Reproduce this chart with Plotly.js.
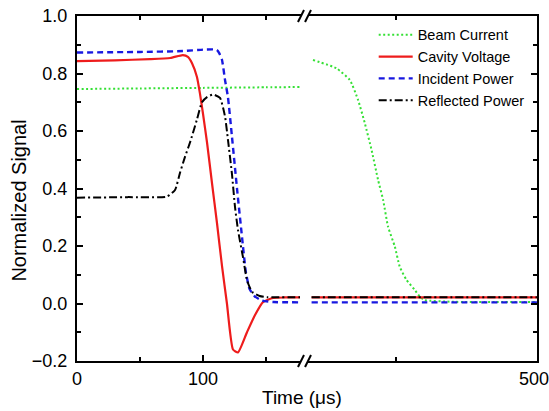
<!DOCTYPE html>
<html>
<head>
<meta charset="utf-8">
<script src="https://cdn.plot.ly/plotly-3.0.1.min.js"></script>
<style>html,body{margin:0;padding:0;background:#fff;}#chart{width:549px;height:411px;}</style>
</head>
<body>
<div id="chart"></div>
<script>
// ---- data ----
const seriesNames = ["Beam Current", "Cavity Voltage", "Incident Power", "Reflected Power"];

// left segment (0 .. ~178 us)
const beamT1 = [0, 50, 100, 150, 177];
const beamV1 = [0.746, 0.748, 0.750, 0.752, 0.753];
const cavT1 = [0, 30, 58, 74, 84, 88, 91.3, 95.2, 97.6, 100, 103.2, 107.1, 111.1, 115.1, 119, 123.8, 127.8, 134.9, 141.3, 147.6, 155.6, 165, 177];
const cavV1 = [0.843, 0.846, 0.850, 0.854, 0.864, 0.858, 0.836, 0.788, 0.73, 0.66, 0.56, 0.42, 0.28, 0.13, 0.0, -0.16, -0.17, -0.10, -0.04, 0.005, 0.019, 0.021, 0.021];
const incT1 = [0, 50, 84, 100, 108, 111, 113, 115.1, 117.5, 119.8, 123, 127, 131, 134, 137, 141, 147, 156, 177];
const incV1 = [0.873, 0.875, 0.878, 0.883, 0.884, 0.882, 0.87, 0.847, 0.777, 0.718, 0.58, 0.40, 0.23, 0.11, 0.05, 0.025, 0.01, 0.005, 0.004];
const refT1 = [0, 40, 71.4, 77.8, 81.7, 85.7, 89.7, 95.2, 99.2, 103.2, 108, 113.5, 117.5, 119.8, 123, 125.4, 127.8, 131.7, 135, 139, 145, 150.8, 177];
const refV1 = [0.368, 0.370, 0.372, 0.395, 0.454, 0.51, 0.56, 0.64, 0.70, 0.718, 0.727, 0.715, 0.65, 0.57, 0.45, 0.336, 0.255, 0.162, 0.08, 0.04, 0.026, 0.022, 0.022];

// right segment (~340 .. 500 us)
const beamT2 = [341, 357.7, 367.2, 373, 377.8, 382.6, 387.2, 390.8, 394.3, 399.1, 402.6, 407.4, 413.3, 416.8, 420, 440, 470, 500];
const beamV2 = [0.847, 0.818, 0.777, 0.708, 0.627, 0.534, 0.43, 0.36, 0.267, 0.198, 0.128, 0.082, 0.047, 0.024, 0.012, 0.006, 0.005, 0.005];
const cavT2 = [340, 420, 500];
const cavV2 = [0.021, 0.021, 0.021];
const incT2 = [340, 420, 500];
const incV2 = [0.004, 0.004, 0.004];
const refT2 = [340, 420, 500];
const refV2 = [0.022, 0.022, 0.022];

const xTickLeft = [0, 100];
const xMinorLeft = [50, 150];
const xTickRight = [500];
const xMinorRight = [400];

// ---- styles ----
const colors = ["#35e035", "#ee1c1c", "#1818e0", "#000000"];
const widths = [2, 2.2, 2.4, 2];
const dashes = ["2px,2.5px", "solid", "6px,4px", "8px,3px,2px,3px"];

const left = [[beamT1, beamV1], [cavT1, cavV1], [incT1, incV1], [refT1, refV1]];
const right = [[beamT2, beamV2], [cavT2, cavV2], [incT2, incV2], [refT2, refV2]];

const traces = [];
seriesNames.forEach((n, i) => {
  traces.push({x: left[i][0], y: left[i][1], name: n, legendgroup: n, type: 'scatter', mode: 'lines',
    line: {color: colors[i], width: widths[i], dash: dashes[i], shape: 'spline', smoothing: 0.5},
    xaxis: 'x', yaxis: 'y'});
});
seriesNames.forEach((n, i) => {
  traces.push({x: right[i][0], y: right[i][1], name: n, legendgroup: n, showlegend: false, type: 'scatter', mode: 'lines',
    line: {color: colors[i], width: widths[i], dash: dashes[i], shape: 'spline', smoothing: 0.5},
    xaxis: 'x2', yaxis: 'y2'});
});

const axCommon = {showline: true, linewidth: 2, linecolor: '#000', ticks: 'inside', ticklen: 6, tickwidth: 2,
  tickcolor: '#000', showgrid: false, zeroline: false, tickfont: {size: 18, color: '#000'}, ticklabeloverflow: 'allow'};

const layout = {
  width: 549, height: 411,
  margin: {l: 77, r: 12, t: 16, b: 50, pad: 0},
  paper_bgcolor: '#fff', plot_bgcolor: '#fff',
  font: {family: 'Arial, "Liberation Sans", sans-serif', color: '#000', size: 16},
  showlegend: true,
  legend: {x: 0.645, y: 0.992, xanchor: 'left', yanchor: 'top', bgcolor: 'rgba(0,0,0,0)',
    font: {size: 14.5, color: '#000'}, itemwidth: 34, tracegroupgap: 0},
  xaxis: Object.assign({}, axCommon, {domain: [0, 0.487], range: [0, 177.8], anchor: 'y', mirror: 'ticks',
    tickmode: 'array', tickvals: xTickLeft, ticktext: xTickLeft.map(String),
    minor: {tickmode: 'array', tickvals: xMinorLeft, ticks: 'inside', ticklen: 4, tickwidth: 2, tickcolor: '#000', showgrid: false}}),
  xaxis2: Object.assign({}, axCommon, {domain: [0.502, 1], range: [337.4, 500.05], anchor: 'y2', mirror: 'ticks',
    tickmode: 'array', tickvals: xTickRight, ticktext: xTickRight.map(String), ticklabelshift: -3,
    minor: {tickmode: 'array', tickvals: xMinorRight, ticks: 'inside', ticklen: 4, tickwidth: 2, tickcolor: '#000', showgrid: false}}),
  yaxis: Object.assign({}, axCommon, {domain: [0, 1], range: [-0.2, 1.0], anchor: 'x', tick0: 0, dtick: 0.2,
    tickformat: '.1f', ticklabelstandoff: 4,
    minor: {dtick: 0.1, ticks: 'inside', ticklen: 4, tickwidth: 2, tickcolor: '#000', showgrid: false}}),
  yaxis2: Object.assign({}, axCommon, {domain: [0, 1], range: [-0.2, 1.0], anchor: 'x2', side: 'right', tick0: 0, dtick: 0.2,
    showticklabels: false,
    minor: {dtick: 0.1, ticks: 'inside', ticklen: 4, tickwidth: 2, tickcolor: '#000', showgrid: false}}),
  annotations: [
    {text: 'Time (μs)', xref: 'paper', yref: 'paper', x: 0.489, y: -0.107, xanchor: 'center', yanchor: 'middle',
      showarrow: false, font: {size: 19, color: '#000'}},
    {text: 'Normalized Signal', xref: 'paper', yref: 'paper', x: -0.126, y: 0.465, xanchor: 'center', yanchor: 'middle',
      textangle: -90, showarrow: false, font: {size: 20, color: '#000'}}
  ],
  shapes: [
    {type: 'line', xref: 'paper', yref: 'paper', x0: 0.4804, y0: -0.0174, x1: 0.4935, y1: 0.0174, line: {color: '#000', width: 2}},
    {type: 'line', xref: 'paper', yref: 'paper', x0: 0.4957, y0: -0.0174, x1: 0.5087, y1: 0.0174, line: {color: '#000', width: 2}},
    {type: 'line', xref: 'paper', yref: 'paper', x0: 0.4804, y0: 0.9826, x1: 0.4935, y1: 1.0174, line: {color: '#000', width: 2}},
    {type: 'line', xref: 'paper', yref: 'paper', x0: 0.4957, y0: 0.9826, x1: 0.5087, y1: 1.0174, line: {color: '#000', width: 2}}
  ]
};

Plotly.newPlot('chart', traces, layout, {displayModeBar: false, staticPlot: true});
</script>
</body>
</html>
